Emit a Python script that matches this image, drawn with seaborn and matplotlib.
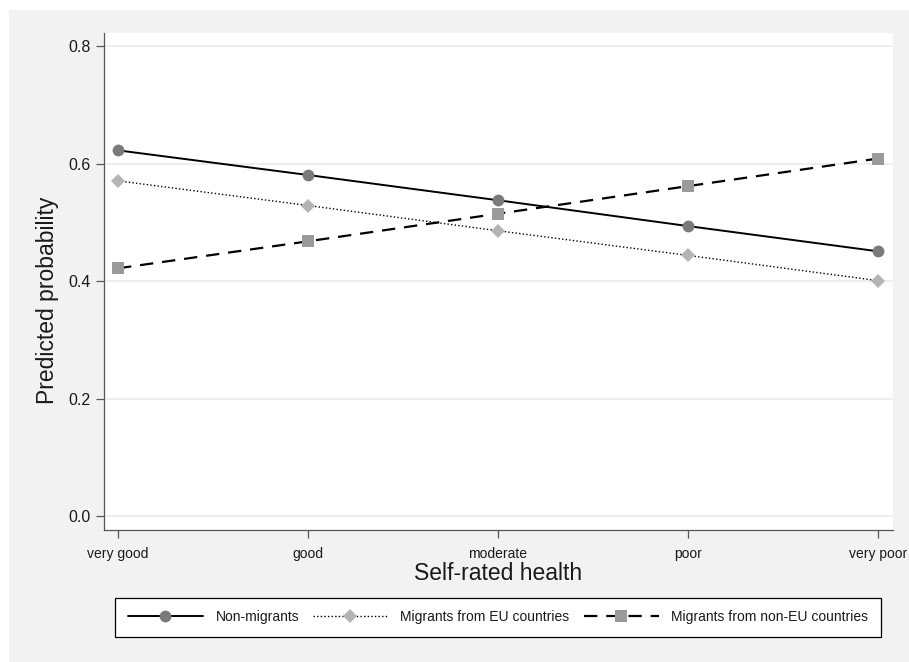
import matplotlib
matplotlib.use("Agg")
import matplotlib.pyplot as plt
import matplotlib.patches as mpatches
import seaborn as sns
import pandas as pd

categories = ["very good", "good", "moderate", "poor", "very poor"]
non_migrants = [0.623, 0.581, 0.538, 0.494, 0.451]
eu_migrants = [0.571, 0.529, 0.486, 0.444, 0.401]
non_eu_migrants = [0.422, 0.468, 0.515, 0.562, 0.609]
series_names = ["Non-migrants", "Migrants from EU countries", "Migrants from non-EU countries"]
y_ticks = [0.0, 0.2, 0.4, 0.6, 0.8]

sns.set_theme(style="white")
plt.rcParams['font.family'] = ['Liberation Sans', 'DejaVu Sans']
plt.rcParams['text.color'] = '#1a1a1a'
plt.rcParams['axes.labelcolor'] = '#1a1a1a'

fig = plt.figure(figsize=(9.09, 6.62), dpi=100, facecolor="white")
# stata-like grey graph region
fig.patches.append(mpatches.Rectangle((9 / 909, 0), 1, (662 - 10) / 662, transform=fig.transFigure,
                                      facecolor="#f2f2f2", edgecolor="none", zorder=-10))

ax = fig.add_axes([104 / 909, (662 - 530) / 662, (893 - 104) / 909, (530 - 33) / 662])
ax.set_facecolor("white")

xpos = list(range(len(categories)))
styles = [
    dict(marker="o", markersize=8.5, markerfacecolor="#7a7a7a", linestyle="-", linewidth=1.4),
    dict(marker="D", markersize=7.5, markerfacecolor="#b4b4b4", linestyle=(0, (1, 1.6)), linewidth=1.0),
    dict(marker="s", markersize=8, markerfacecolor="#9a9a9a", linestyle=(0, (6, 4)), linewidth=1.6),
]
for name, vals, st in zip(series_names, [non_migrants, eu_migrants, non_eu_migrants], styles):
    df = pd.DataFrame({"x": xpos, "y": vals})
    sns.lineplot(data=df, x="x", y="y", ax=ax, color="black", markeredgecolor=st["markerfacecolor"],
                 markeredgewidth=0, label=name, **st)

ax.set_xlim(-0.074, 4.08)
ax.set_ylim(-0.024, 0.823)
ax.set_xticks(xpos)
ax.set_xticklabels(categories, fontsize=10)
ax.set_yticks(y_ticks)
ax.set_yticklabels([f"{t:.1f}" for t in y_ticks], fontsize=11.5)
ax.yaxis.grid(True, color="#ebebeb", linewidth=1.2)
ax.set_axisbelow(True)
ax.tick_params(axis="both", direction="out", length=6, width=0.9, color="#555555", labelcolor="#1a1a1a",
               left=True, bottom=True)
ax.tick_params(axis="x", pad=6)
for s in ["top", "right"]:
    ax.spines[s].set_visible(False)
for s in ["left", "bottom"]:
    ax.spines[s].set_color("#555555")
    ax.spines[s].set_linewidth(0.9)

ax.set_xlabel("Self-rated health", fontsize=16.5, labelpad=1)
ax.set_ylabel("Predicted probability", fontsize=16.5)
ax.yaxis.set_label_coords(-0.057, 0.463)

handles, labels = ax.get_legend_handles_labels()
ax.get_legend().remove()
leg = fig.legend(handles, labels, loc="center", bbox_to_anchor=(498 / 909, (662 - 617) / 662), ncol=3,
                 fontsize=10, frameon=True, fancybox=False, edgecolor="black", facecolor="white",
                 handlelength=5.4, handletextpad=0.9, columnspacing=1.0, borderpad=0.9, numpoints=1)
leg.get_frame().set_linewidth(0.9)
leg.get_frame().set_alpha(1)

fig.savefig("out.png", dpi=100, facecolor=fig.get_facecolor())
